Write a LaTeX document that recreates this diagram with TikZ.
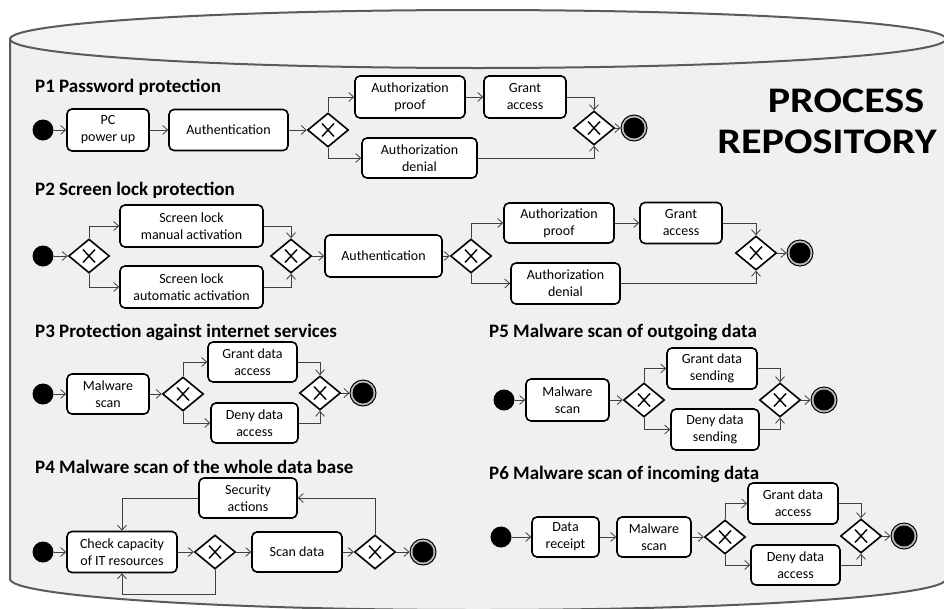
\documentclass[tikz,border=0pt]{standalone}
\usepackage{fontspec}
\setmainfont{Carlito}
\usetikzlibrary{shapes.geometric,arrows.meta}
\definecolor{cylfill}{HTML}{F0F0F0}
\definecolor{cyltop}{HTML}{F3F3F3}
\definecolor{cylline}{HTML}{5A5A5A}
\definecolor{flowc}{HTML}{404040}
\definecolor{ringgap}{HTML}{BDBDBD}
\begin{document}
\begin{tikzpicture}[x=1pt,y=-1pt,
  box/.style={rectangle, rounded corners=5pt, draw=black, line width=1.6pt, fill=white,
    inner sep=0pt, align=center, font=\fontsize{14}{17}\selectfont},
  gate/.style={diamond, draw=black, line width=1.6pt, fill=white, inner sep=0pt,
    minimum width=41pt, minimum height=34pt, aspect=1.2,
    path picture={\draw[line width=1.4pt]
      ([xshift=-6pt,yshift=-6.5pt]path picture bounding box.center) --
      ([xshift=6pt,yshift=6.5pt]path picture bounding box.center)
      ([xshift=-6pt,yshift=6.5pt]path picture bounding box.center) --
      ([xshift=6pt,yshift=-6.5pt]path picture bounding box.center);}},
  startnode/.style={circle, fill=black, inner sep=0pt, minimum size=21pt},
  endnode/.style={circle, draw=black, line width=1pt, fill=ringgap, inner sep=0pt, minimum size=26pt,
    path picture={\fill[black] (path picture bounding box.center) circle (10.5pt);}},
  flow/.style={draw=flowc, line width=0.8pt, -{Straight Barb[length=5pt,width=9pt]}},
  ttl/.style={anchor=base west, inner sep=0pt, font=\fontsize{19}{22}\selectfont\bfseries},
  big/.style={anchor=base, inner sep=0pt, font=\fontsize{36}{40}\selectfont\bfseries}
]
\useasboundingbox (0,0) rectangle (944,608);
\clip (0,0) rectangle (944,608);

% ---------- cylinder ----------
\fill[cylfill] (10,39) rectangle (946,579);
\fill[cylfill] (478,579) ellipse [x radius=468, y radius=31];
\draw[cylline, line width=2pt] (10,39) -- (10,579)
  arc[start angle=180, end angle=0, x radius=468, y radius=31] -- (946,39);
\draw[cylline, line width=2pt, fill=cyltop] (478,39) ellipse [x radius=468, y radius=29];

% ---------- big title ----------
\node[big] (pt1) at (846,112) {\scalebox{1.17}[1]{PROCESS}};
\node[big] (pt2) at (827,153) {\scalebox{1.17}[1]{REPOSITORY}};

% ---------- P1 ----------
\node[ttl] (t1) at (35,92) {P1 Password protection};
\node[startnode] (s1) at (43,130) {};
\node[box, minimum width=82pt, minimum height=42pt] (b11) at (108,130) {PC\\power up};
\node[box, minimum width=119pt, minimum height=41pt] (b12) at (228.5,130) {Authentication};
\node[gate] (g11) at (328,130) {};
\node[box, minimum width=110pt, minimum height=42pt] (b13) at (410,97) {Authorization\\proof};
\node[box, minimum width=115pt, minimum height=40pt] (b14) at (419.5,158) {Authorization\\denial};
\node[box, minimum width=82pt, minimum height=42pt] (b15) at (525,97) {Grant\\access};
\node[gate] (g12) at (594,128) {};
\node[endnode] (e1) at (634,128) {};
\draw[flow] (s1) -- (b11);
\draw[flow] (b11) -- (b12);
\draw[flow] (b12) -- (g11);
\draw[flow] (g11.north) |- (b13.west);
\draw[flow] (g11.south) |- (b14.west);
\draw[flow] (b13) -- (b15);
\draw[flow] (b15.east) -| (g12.north);
\draw[flow] (b14.east) -| (g12.south);
\draw[flow] (g12) -- (e1);

% ---------- P2 ----------
\node[ttl] (t2) at (35,195) {P2 Screen lock protection};
\node[startnode] (s2) at (43,256) {};
\node[gate] (g21) at (89,256) {};
\node[box, minimum width=143pt, minimum height=42pt] (b21) at (191.5,226) {Screen lock\\manual activation};
\node[box, minimum width=143pt, minimum height=42pt] (b22) at (191.5,287) {Screen lock\\automatic activation};
\node[gate] (g22) at (291,256) {};
\node[box, minimum width=117pt, minimum height=42pt] (b23) at (383.5,256) {Authentication};
\node[gate] (g23) at (471,256) {};
\node[box, minimum width=110pt, minimum height=40pt] (b24) at (559,223) {Authorization\\proof};
\node[box, minimum width=82pt, minimum height=41pt] (b25) at (681,223) {Grant\\access};
\node[box, minimum width=109pt, minimum height=41pt] (b26) at (565.5,283.5) {Authorization\\denial};
\node[gate] (g24) at (756,253) {};
\node[endnode] (e2) at (800,253) {};
\draw[flow] (s2) -- (g21);
\draw[flow] (g21.north) |- (b21.west);
\draw[flow] (g21.south) |- (b22.west);
\draw[flow] (b21.east) -| (g22.north);
\draw[flow] (b22.east) -| (g22.south);
\draw[flow] (g22) -- (b23);
\draw[flow] (b23) -- (g23);
\draw[flow] (g23.north) |- (b24.west);
\draw[flow] (g23.south) |- (b26.west);
\draw[flow] (b24) -- (b25);
\draw[flow] (b25.east) -| (g24.north);
\draw[flow] (b26.east) -| (g24.south);
\draw[flow] (g24) -- (e2);

% ---------- P3 ----------
\node[ttl] (t3) at (35,337) {P3 Protection against internet services};
\node[startnode] (s3) at (43,394) {};
\node[box, minimum width=82pt, minimum height=40pt] (b31) at (108,394) {Malware\\scan};
\node[gate] (g31) at (183,394) {};
\node[box, minimum width=89pt, minimum height=40pt] (b32) at (252.5,362) {Grant data\\access};
\node[box, minimum width=87pt, minimum height=40pt] (b33) at (254.5,423) {Deny data\\access};
\node[gate] (g32) at (320,393) {};
\node[endnode] (e3) at (363,393) {};
\draw[flow] (s3) -- (b31);
\draw[flow] (b31) -- (g31);
\draw[flow] (g31.north) |- (b32.west);
\draw[flow] (g31.south) |- (b33.west);
\draw[flow] (b32.east) -| (g32.north);
\draw[flow] (b33.east) -| (g32.south);
\draw[flow] (g32) -- (e3);

% ---------- P5 ----------
\node[ttl] (t5) at (489,337) {P5 Malware scan of outgoing data};
\node[startnode] (s5) at (504,400) {};
\node[box, minimum width=83pt, minimum height=42pt] (b51) at (567.5,400) {Malware\\scan};
\node[gate] (g51) at (644,400) {};
\node[box, minimum width=90pt, minimum height=41pt] (b52) at (712,368.5) {Grant data\\sending};
\node[box, minimum width=88pt, minimum height=41pt] (b53) at (715,429.5) {Deny data\\sending};
\node[gate] (g52) at (780,400) {};
\node[endnode] (e5) at (824,400) {};
\draw[flow] (s5) -- (b51);
\draw[flow] (b51) -- (g51);
\draw[flow] (g51.north) |- (b52.west);
\draw[flow] (g51.south) |- (b53.west);
\draw[flow] (b52.east) -| (g52.north);
\draw[flow] (b53.east) -| (g52.south);
\draw[flow] (g52) -- (e5);

% ---------- P4 ----------
\node[ttl] (t4) at (35,473) {P4 Malware scan of the whole data base};
\node[startnode] (s4) at (43,552) {};
\node[box, minimum width=110pt, minimum height=41pt] (b41) at (122,552) {Check capacity\\of IT resources};
\node[gate] (g41) at (215,552) {};
\node[box, minimum width=90pt, minimum height=40pt] (b42) at (297,552) {Scan data};
\node[gate] (g42) at (375,552) {};
\node[endnode] (e4) at (423,552) {};
\node[box, minimum width=98pt, minimum height=40pt] (b43) at (248,498) {Security\\actions};
\draw[flow] (s4) -- (b41);
\draw[flow] (b41) -- (g41);
\draw[flow] (g41) -- (b42);
\draw[flow] (b42) -- (g42);
\draw[flow] (g42) -- (e4);
\draw[flow] (g42.north) |- (b43.east);
\draw[flow] (b43.west) -| (b41.north);
\draw[flow] (g41.south) -- ++(0,25) -| (b41.south);

% ---------- P6 ----------
\node[ttl] (t6) at (489,479) {P6 Malware scan of incoming data};
\node[startnode] (s6) at (501,537) {};
\node[box, minimum width=67pt, minimum height=40pt] (b61) at (565.5,537) {Data\\receipt};
\node[box, minimum width=74pt, minimum height=40pt] (b62) at (654,537) {Malware\\scan};
\node[gate] (g61) at (725,537) {};
\node[box, minimum width=90pt, minimum height=41pt] (b63) at (793,503.5) {Grant data\\access};
\node[box, minimum width=89pt, minimum height=40pt] (b64) at (795.5,565) {Deny data\\access};
\node[gate] (g62) at (861,536) {};
\node[endnode] (e6) at (904,536) {};
\draw[flow] (s6) -- (b61);
\draw[flow] (b61) -- (b62);
\draw[flow] (b62) -- (g61);
\draw[flow] (g61.north) |- (b63.west);
\draw[flow] (g61.south) |- (b64.west);
\draw[flow] (b63.east) -| (g62.north);
\draw[flow] (b64.east) -| (g62.south);
\draw[flow] (g62) -- (e6);
\end{tikzpicture}
\end{document}
